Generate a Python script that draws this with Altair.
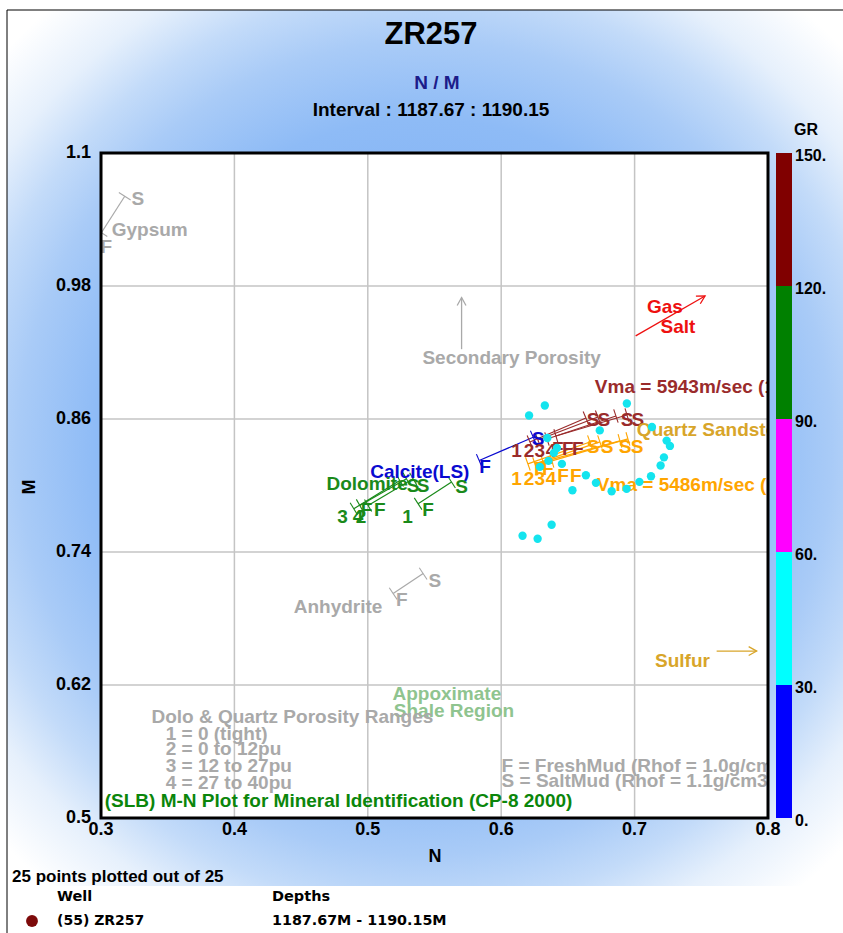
import math
import altair as alt
import pandas as pd

FONT = "Liberation Sans"
HEAVY = "DejaVu Sans"

# ---------------- data ----------------
X_TICKS = [0.3, 0.4, 0.5, 0.6, 0.7, 0.8]
Y_TICKS = [0.5, 0.62, 0.74, 0.86, 0.98, 1.1]

N_VALS = [0.6209, 0.6327, 0.6942, 0.6739, 0.6346, 0.6395, 0.6418, 0.6354, 0.6455,
          0.6635, 0.6534, 0.6828, 0.6940, 0.7130, 0.7240, 0.7265, 0.7220, 0.7195,
          0.7123, 0.7036, 0.6378, 0.6160, 0.6273, 0.6710, 0.6290]
M_VALS = [0.8632, 0.8722, 0.8740, 0.8497, 0.8429, 0.8294, 0.8339, 0.8222, 0.8195,
          0.8092, 0.7957, 0.7948, 0.7970, 0.8528, 0.8405, 0.8357, 0.8254, 0.8180,
          0.8083, 0.8033, 0.7646, 0.7547, 0.7520, 0.8024, 0.8168]

GR_BINS = [0, 30, 60, 90, 120, 150]
GR_COLORS = ["#0000ff", "#00ffff", "#ff00ff", "#008000", "#800000"]

GRAY = "#a9a9a9"
BLUE = "#0a0ad0"
GREEN = "#1a8a1a"
DARKRED = "#9a2b2b"
ORANGE = "#ffa500"
GOLD = "#d8a52a"
RED = "#ee1010"
LGREEN = "#8fc48f"

# mineral lines, fresh-mud end (1) to salt-mud end (2)
SEG_N1 = [0.3003, 0.5190, 0.5835, 0.5377, 0.4895, 0.4940, 0.5002,
          0.6215, 0.6275, 0.6343, 0.6410, 0.6200, 0.6253, 0.6313, 0.6380]
SEG_M1 = [1.0281, 0.7025, 0.8225, 0.7835, 0.7790, 0.7820, 0.7820,
          0.8393, 0.8411, 0.8420, 0.8447, 0.8195, 0.8195, 0.8213, 0.8222]
SEG_N2 = [0.3178, 0.5415, 0.6240, 0.5628, 0.5240, 0.5290, 0.5340,
          0.6635, 0.6725, 0.6860, 0.6943, 0.6665, 0.6740, 0.6890, 0.6950]
SEG_M2 = [1.0610, 0.7205, 0.8436, 0.8031, 0.8045, 0.8060, 0.8060,
          0.8609, 0.8618, 0.8627, 0.8636, 0.8393, 0.8393, 0.8402, 0.8420]
SEG_COL = [GRAY, GRAY, BLUE, GREEN, GREEN, GREEN, GREEN,
           DARKRED, DARKRED, DARKRED, DARKRED, ORANGE, ORANGE, ORANGE, ORANGE]

# arrows (Gas/Salt, Secondary Porosity, Sulfur)
ARR_N1 = [0.7008, 0.5703, 0.7615]
ARR_M1 = [0.9350, 0.9230, 0.6506]
ARR_N2 = [0.7528, 0.5703, 0.7915]
ARR_M2 = [0.9710, 0.9696, 0.6506]
ARR_COL = [RED, GRAY, GOLD]

# centred labels
LC_TEXT = ["S", "F", "Gypsum",
           "F", "S", "Anhydrite",
           "Secondary Porosity",
           "F", "S", "Calcite(LS)",
           "3", "4", "2", "1", "F", "F", "F", "S", "S", "S",
           "Gas", "Salt",
           "1", "2", "3", "4", "F", "F", "F", "S", "S", "S", "S",
           "1", "2", "3", "4", "F", "F", "F", "F", "S", "S", "S", "S"]
LC_N = [0.3277, 0.3040, 0.3365,
        0.5255, 0.5503, 0.4777,
        0.6078,
        0.5878, 0.6277, 0.5390,
        0.4810, 0.4927, 0.4950, 0.5298, 0.4990, 0.5090, 0.5452, 0.5340, 0.5415, 0.5703,
        0.7227, 0.7325,
        0.6115, 0.6208, 0.6290, 0.6373, 0.6425, 0.6500, 0.6575, 0.6688, 0.6770, 0.6943, 0.7025,
        0.6115, 0.6208, 0.6290, 0.6373, 0.6290, 0.6350, 0.6463, 0.6560, 0.6688, 0.6793, 0.6928, 0.7018]
LC_M = [1.0586, 1.0148, 1.0302,
        0.6965, 0.7136, 0.6906,
        0.9149,
        0.8166, 0.8420, 0.8121,
        0.7716, 0.7716, 0.7716, 0.7716, 0.7775, 0.7775, 0.7775, 0.8000, 0.8000, 0.7986,
        0.9608, 0.9428,
        0.8315, 0.8315, 0.8315, 0.8315, 0.8330, 0.8330, 0.8330, 0.8591, 0.8591, 0.8591, 0.8591,
        0.8060, 0.8060, 0.8060, 0.8060, 0.8150, 0.8150, 0.8087, 0.8087, 0.8344, 0.8344, 0.8344, 0.8344]
LC_COL = [GRAY] * 7 + [BLUE] * 3 + [GREEN] * 10 + [RED] * 2 + [DARKRED] * 11 + [ORANGE] * 12

# left-aligned labels
LL_TEXT = ["Dolomite",
           "Vma = 5943m/sec (19500ft/sec)",
           "Quartz Sandstone",
           "Vma = 5486m/sec (18000ft/sec)",
           "Sulfur",
           "Appoximate", "Shale Region",
           "Dolo & Quartz Porosity Ranges",
           "1 = 0 (tight)", "2 = 0 to 12pu", "3 = 12 to 27pu", "4 = 27 to 40pu",
           "(SLB) M-N Plot for Mineral Identification (CP-8 2000)",
           "F = FreshMud (Rhof = 1.0g/cm3)", "S = SaltMud (Rhof = 1.1g/cm3)"]
LL_N = [0.4690, 0.6702, 0.7017, 0.6717, 0.7153, 0.5185, 0.5195, 0.3378,
        0.3485, 0.3485, 0.3485, 0.3485, 0.3028, 0.6003, 0.6003]
LL_M = [0.8015, 0.8889, 0.8501, 0.8006, 0.6413, 0.6116, 0.5963, 0.5909,
        0.5756, 0.5621, 0.5468, 0.5315, 0.5153, 0.5468, 0.5333]
LL_COL = [GREEN, DARKRED, GOLD, ORANGE, GOLD, LGREEN, LGREEN, GRAY,
          GRAY, GRAY, GRAY, GRAY, "#0b860b", GRAY, GRAY]

# ---------------- layout ----------------
PL, PT = 101, 153
W, H = 667, 665
PX_N = W / (X_TICKS[-1] - X_TICKS[0])
PX_M = H / (Y_TICKS[-1] - Y_TICKS[0])

xs = alt.Scale(domain=[X_TICKS[0], X_TICKS[-1]], nice=False, zero=False)
ys = alt.Scale(domain=[Y_TICKS[0], Y_TICKS[-1]], nice=False, zero=False)
ONE = pd.DataFrame({"a": [0]})


def screen_angle(n1, m1, n2, m2):
    return math.degrees(math.atan2(-(m2 - m1) * PX_M, (n2 - n1) * PX_N))


seg_df = pd.DataFrame({"n1": SEG_N1, "m1": SEG_M1, "n2": SEG_N2, "m2": SEG_M2, "col": SEG_COL})
tick_rows = []
for a, b, c, d, col in zip(SEG_N1, SEG_M1, SEG_N2, SEG_M2, SEG_COL):
    ang = (screen_angle(a, b, c, d) + 90) % 360
    tick_rows.append({"n": a, "m": b, "ang": ang, "col": col})
    tick_rows.append({"n": c, "m": d, "ang": ang, "col": col})
tick_df = pd.DataFrame(tick_rows)

arr_df = pd.DataFrame({"n1": ARR_N1, "m1": ARR_M1, "n2": ARR_N2, "m2": ARR_M2, "col": ARR_COL})
arr_df["ang"] = [screen_angle(a, b, c, d) % 360 for a, b, c, d in zip(ARR_N1, ARR_M1, ARR_N2, ARR_M2)]

pts_df = pd.DataFrame({"N": N_VALS, "M": M_VALS})
lc_df = pd.DataFrame({"t": LC_TEXT, "n": LC_N, "m": LC_M, "col": LC_COL})
ll_df = pd.DataFrame({"t": LL_TEXT, "n": LL_N, "m": LL_M, "col": LL_COL})
gx_df = pd.DataFrame({"v": X_TICKS})
gy_df = pd.DataFrame({"v": Y_TICKS})
cb_df = pd.DataFrame({"lo": GR_BINS[:-1], "hi": GR_BINS[1:], "col": GR_COLORS})
cbl_df = pd.DataFrame({"gr": GR_BINS})


def X(field):
    return alt.X(field, scale=xs, axis=None)


def Y(field):
    return alt.Y(field, scale=ys, axis=None)


def ptext(txt, px, py, size, color="black", align="center", font=FONT, angle=None, weight="bold"):
    kw = dict(text=txt, align=align, baseline="middle", fontSize=size, fontWeight=weight,
              color=color, font=font)
    if angle is not None:
        kw["angle"] = angle
    return alt.Chart(ONE).mark_text(**kw).encode(x=alt.value(px - PL), y=alt.value(py - PT))


layers = []

# background gradient
grad = alt.Gradient(
    gradient="radial",
    stops=[alt.GradientStop(offset=0.0, color="#6ea3f0"),
           alt.GradientStop(offset=0.50, color="#8ebbf6"),
           alt.GradientStop(offset=0.62, color="#a9cbf7"),
           alt.GradientStop(offset=0.70, color="#c3dbf9"),
           alt.GradientStop(offset=0.78, color="#e6f0fc"),
           alt.GradientStop(offset=0.88, color="#ffffff"),
           alt.GradientStop(offset=1.0, color="#ffffff")],
    x1=0.5, y1=0.5, r1=0, x2=0.5, y2=0.5, r2=0.75)
layers.append(alt.Chart(ONE).mark_rect(fill=grad).encode(
    x=alt.value(7 - PL), x2=alt.value(843 - PL), y=alt.value(10 - PT), y2=alt.value(886 - PT)))

# plot area
layers.append(alt.Chart(ONE).mark_rect(fill="white").encode(
    x=alt.value(0), x2=alt.value(W), y=alt.value(0), y2=alt.value(H)))

# grid
layers.append(alt.Chart(gx_df).mark_rule(color="#c4c4c4", strokeWidth=1.5).encode(x=X("v:Q")))
layers.append(alt.Chart(gy_df).mark_rule(color="#c4c4c4", strokeWidth=1.5).encode(y=Y("v:Q")))

# tick labels
layers.append(alt.Chart(gx_df).transform_calculate(lab="format(datum.v, '.1f')").mark_text(
    align="center", baseline="middle", fontSize=18, fontWeight="bold", font=FONT, color="black").encode(
    x=X("v:Q"), y=alt.value(830 - PT), text="lab:N"))
layers.append(alt.Chart(gy_df).transform_calculate(lab="format(datum.v, '.2~f')").mark_text(
    align="right", baseline="middle", fontSize=18, fontWeight="bold", font=FONT, color="black").encode(
    y=Y("v:Q"), x=alt.value(91 - PL), text="lab:N"))

# mineral lines
layers.append(alt.Chart(seg_df).mark_rule(strokeWidth=1.2, clip=True).encode(
    x=X("n1:Q"), y=Y("m1:Q"), x2="n2:Q", y2="m2:Q", color=alt.Color("col:N", scale=None)))
layers.append(alt.Chart(tick_df).mark_point(shape="stroke", size=196, strokeWidth=1.1,
                                            filled=False, opacity=1, clip=True).encode(
    x=X("n:Q"), y=Y("m:Q"), angle=alt.Angle("ang:Q", scale=None),
    color=alt.Color("col:N", scale=None)))

# arrows
layers.append(alt.Chart(arr_df).mark_rule(strokeWidth=1.3).encode(
    x=X("n1:Q"), y=Y("m1:Q"), x2="n2:Q", y2="m2:Q", color=alt.Color("col:N", scale=None)))
layers.append(alt.Chart(arr_df).mark_point(shape="M -1 -0.55 L 0 0 L -1 0.55", size=256,
                                           strokeWidth=1.3, filled=False, opacity=1).encode(
    x=X("n2:Q"), y=Y("m2:Q"), angle=alt.Angle("ang:Q", scale=None),
    color=alt.Color("col:N", scale=None)))

# labels
layers.append(alt.Chart(lc_df).mark_text(align="center", baseline="middle", fontSize=19,
                                         fontWeight="bold", font=FONT, clip=True).encode(
    x=X("n:Q"), y=Y("m:Q"), text="t:N", color=alt.Color("col:N", scale=None)))
layers.append(alt.Chart(ll_df).mark_text(align="left", baseline="middle", fontSize=19,
                                         fontWeight="bold", font=FONT, clip=True).encode(
    x=X("n:Q"), y=Y("m:Q"), text="t:N", color=alt.Color("col:N", scale=None)))

# data points
layers.append(alt.Chart(pts_df).mark_circle(size=70, color="#14e4ee", opacity=1).encode(
    x=X("N:Q"), y=Y("M:Q")))

# plot border
layers.append(alt.Chart(ONE).mark_rect(fillOpacity=0, stroke="black", strokeWidth=3).encode(
    x=alt.value(0), x2=alt.value(W), y=alt.value(0), y2=alt.value(H)))

# GR colour bar
layers.append(alt.Chart(cb_df).transform_calculate(
    y0="0.5 + datum.lo * 0.6 / 150", y1="0.5 + datum.hi * 0.6 / 150").mark_rect().encode(
    x=alt.value(776 - PL), x2=alt.value(792 - PL), y=Y("y0:Q"), y2="y1:Q",
    color=alt.Color("col:N", scale=None)))
layers.append(alt.Chart(cbl_df).transform_calculate(
    yy="0.5 + datum.gr * 0.6 / 150", lab="datum.gr + '.'").mark_text(
    align="left", baseline="middle", fontSize=16, fontWeight="bold", font=FONT, color="black",
    dy=3).encode(x=alt.value(795 - PL), y=Y("yy:Q"), text="lab:N"))

# frame lines
layers.append(alt.Chart(ONE).mark_rule(color="black", strokeWidth=1).encode(
    x=alt.value(7 - PL), y=alt.value(10 - PT), y2=alt.value(933 - PT)))
layers.append(alt.Chart(ONE).mark_rule(color="black", strokeWidth=1).encode(
    x=alt.value(7 - PL), x2=alt.value(843 - PL), y=alt.value(10 - PT)))

# titles & other text
layers.append(ptext("ZR257", 431, 35, 31))
layers.append(ptext("N / M", 437, 83, 19, color="#1c1c8a"))
layers.append(ptext("Interval : 1187.67 : 1190.15", 431, 110, 19))
layers.append(ptext("GR", 806, 130, 16))
layers.append(ptext("M", 30, 487, 18, angle=270))
layers.append(ptext("N", 435, 857, 18))
layers.append(ptext("25 points plotted out of 25", 12, 877, 17, align="left"))
layers.append(ptext("Well", 57, 897, 14.5, align="left", font=HEAVY))
layers.append(ptext("Depths", 272, 897, 14.5, align="left", font=HEAVY))
layers.append(ptext("(55) ZR257", 57, 921, 14, align="left", font=HEAVY))
layers.append(ptext("1187.67M - 1190.15M", 272, 921, 14.3, align="left", font=HEAVY))
layers.append(alt.Chart(ONE).mark_point(shape="circle", filled=True, size=140, color="#7d0a0a",
                                        opacity=1).encode(x=alt.value(32 - PL), y=alt.value(921 - PT)))

chart = alt.layer(*layers).properties(
    width=W, height=H,
    autosize=alt.AutoSizeParams(type="none"),
    padding={"left": PL, "top": PT, "right": 843 - PL - W, "bottom": 933 - PT - H},
    background="white",
).configure_view(stroke="transparent")

chart.save("out.html", embed_options={"renderer": "svg", "actions": False})
